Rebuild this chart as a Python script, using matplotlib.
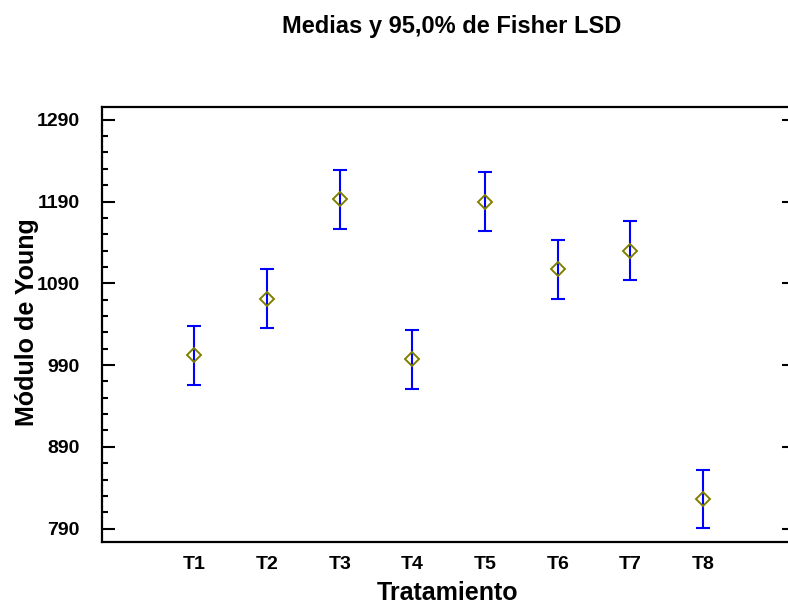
import matplotlib
matplotlib.use('Agg')
import matplotlib.pyplot as plt

plt.rcParams['font.family'] = ['Liberation Sans', 'DejaVu Sans']
plt.rcParams['font.weight'] = 'bold'

tratamientos = ['T1', 'T2', 'T3', 'T4', 'T5', 'T6', 'T7', 'T8']
medias = [1002, 1071, 1193, 997, 1190, 1107, 1130, 826]
lim_inf = [966, 1035, 1157, 961, 1154, 1071, 1094, 791]
lim_sup = [1038, 1107, 1229, 1033, 1226, 1143, 1166, 862]
ticks_y = [790, 890, 990, 1090, 1190, 1290]

x = list(range(1, len(tratamientos) + 1))
err_low = [m - lo for m, lo in zip(medias, lim_inf)]
err_high = [hi - m for m, hi in zip(medias, lim_sup)]

W, H = 788, 607
fig = plt.figure(figsize=(W / 100, H / 100), dpi=100)
ax = fig.add_axes([102 / W, 1 - 541.7 / H, (794 - 102) / W, (541.7 - 106.7) / H])

# intervalos LSD y medias
ax.errorbar(x, medias, yerr=[err_low, err_high], fmt='none', ecolor='#0000ff',
            elinewidth=1.5, capsize=5.2, capthick=1.5)
ax.plot(x, medias, linestyle='none', marker='D', markersize=7,
        markerfacecolor='none', markeredgecolor='#808000', markeredgewidth=1.4)

ax.set_xlim(-0.27, 9.25)
ax.set_ylim(774, 1306)
ax.set_xticks(x)
ax.set_xticklabels(tratamientos)
ax.set_yticks(ticks_y)
ax.set_yticks([v for v in range(790, 1306, 20) if v not in ticks_y], minor=True)

for s in ax.spines.values():
    s.set_linewidth(1.6)
ax.tick_params(axis='x', which='both', length=0, pad=10, labelsize=14)
ax.tick_params(axis='y', which='major', direction='in', length=9, width=1.5,
               right=True, pad=16, labelsize=14)
ax.tick_params(axis='y', which='minor', direction='in', length=4, width=1.5)

fig.text(447.5 / W, 1 - 593 / H, 'Tratamiento', fontsize=18,
         fontweight='bold', ha='center', va='center')
fig.text(27 / W, 1 - 322 / H, 'Módulo de Young', fontsize=18,
         fontweight='bold', ha='center', va='center', rotation=90)
fig.text(452 / W, 1 - 27 / H, 'Medias y 95,0% de Fisher LSD', fontsize=17,
         fontweight='bold', ha='center', va='center')

fig.savefig('out.png', dpi=100)
